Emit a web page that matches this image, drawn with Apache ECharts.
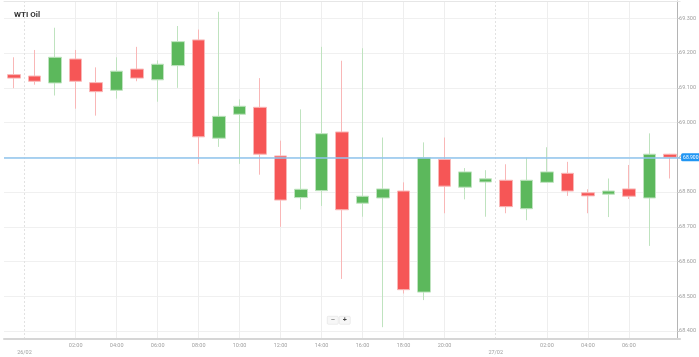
<!DOCTYPE html>
<html>
<head>
<meta charset="utf-8">
<script src="https://cdn.jsdelivr.net/npm/echarts@6/dist/echarts.min.js"></script>
<style>
html,body{margin:0;padding:0;background:#fff;}
#chart{width:699px;height:357px;}
</style>
</head>
<body>
<div id="chart"></div>
<script>
const title = 'WTI Oil';
const categories = ['22:00','00:00','01:00','02:00','03:00','04:00','05:00','06:00','07:00','08:00','09:00','10:00','11:00','12:00','13:00','14:00','15:00','16:00','17:00','18:00','19:00','20:00','21:00','22:00','00:00','01:00','02:00','03:00','04:00','05:00','06:00','07:00','08:00'];
const opens  = [69.138,69.134,69.114,69.183,69.115,69.093,69.154,69.123,69.164,69.238,68.955,69.024,69.044,68.904,68.784,68.804,68.973,68.768,68.783,68.803,68.512,68.894,68.814,68.829,68.834,68.752,68.828,68.854,68.798,68.794,68.809,68.783,68.909];
const closes = [69.128,69.119,69.188,69.119,69.089,69.148,69.128,69.168,69.233,68.959,69.018,69.047,68.909,68.777,68.808,68.968,68.749,68.788,68.809,68.519,68.899,68.817,68.858,68.838,68.758,68.834,68.858,68.803,68.789,68.803,68.788,68.909,68.900];
const lows   = [69.099,69.109,69.078,69.040,69.020,69.069,69.119,69.060,69.100,68.881,68.930,68.881,68.850,68.700,68.750,68.760,68.550,68.729,68.411,68.508,68.489,68.739,68.779,68.729,68.739,68.719,68.826,68.789,68.739,68.728,68.780,68.645,68.839];
const highs  = [69.188,69.209,69.273,69.209,69.159,69.188,69.218,69.179,69.278,69.268,69.319,69.067,69.128,68.948,69.038,69.218,69.178,69.214,68.957,68.828,68.943,68.957,68.869,68.863,68.880,68.899,68.929,68.887,68.808,68.839,68.878,68.969,68.910];
const hourTicks = [3,5,7,9,11,13,15,17,19,21,26,28,30];
const dayTicks = [0.5, 23.5];
const dayLabels = ['26/02', '27/02'];
const priceTicks = [68.4,68.5,68.6,68.7,68.8,68.9,69.0,69.1,69.2,69.3];
const lastPrice = 68.900;

const candleData = categories.map((c, i) => [opens[i], closes[i], lows[i], highs[i]]);
const dayLabelMap = {};
dayTicks.forEach((t, i) => { dayLabelMap[t] = dayLabels[i]; });

const chart = echarts.init(document.getElementById('chart'), null, {renderer: 'canvas'});
const labelFont = {color: '#a0a0a0', fontSize: 5.5, fontFamily: 'Roboto, sans-serif'};

chart.setOption({
  animation: false,
  backgroundColor: '#fff',
  title: {
    text: title, left: 9, top: 6,
    textStyle: {fontSize: 8, fontWeight: 'bold', color: '#333', fontFamily: 'Roboto, sans-serif'}
  },
  grid: {left: 4, right: 18, top: 1, bottom: 18, containLabel: false},
  xAxis: [
    {
      type: 'category', data: categories, boundaryGap: true, position: 'bottom',
      axisLine: {show: true, onZero: false, lineStyle: {color: '#d6d6d6', width: 2}},
      axisTick: {show: false}, axisLabel: {show: false}, splitLine: {show: false}
    },
    {
      type: 'value', min: -0.5, max: 32.5, position: 'bottom',
      axisLine: {show: false, onZero: false},
      axisTick: {show: false, customValues: hourTicks},
      axisLabel: Object.assign({customValues: hourTicks, margin: 4,
        formatter: v => categories[Math.round(v)]}, labelFont),
      splitLine: {show: true, lineStyle: {color: '#eeeeee', width: 1}}
    },
    {
      type: 'value', min: -0.5, max: 32.5, position: 'bottom',
      axisLine: {show: false, onZero: false},
      axisTick: {show: false, customValues: dayTicks},
      axisLabel: Object.assign({customValues: dayTicks, margin: 11,
        formatter: v => dayLabelMap[v] || ''}, labelFont),
      splitLine: {show: true, lineStyle: {color: '#e2e2e2', width: 1, type: [2, 2]}}
    },
    {
      type: 'value', min: -0.5, max: 32.5, position: 'top',
      axisLine: {show: true, onZero: false, lineStyle: {color: '#e6e6e6', width: 1}},
      axisTick: {show: false}, axisLabel: {show: false}, splitLine: {show: false}
    }
  ],
  yAxis: {
    type: 'value', position: 'right', min: 68.377, max: 69.35, offset: -3,
    axisLine: {show: true, onZero: false, lineStyle: {color: '#b4b4b4', width: 1}},
    axisTick: {show: true, length: 2, customValues: priceTicks, lineStyle: {color: '#c8c8c8'}},
    axisLabel: Object.assign({customValues: priceTicks, margin: 2, formatter: v => v.toFixed(3)}, labelFont),
    splitLine: {show: true, lineStyle: {color: '#f0f0f0', width: 1}}
  },
  series: [{
    type: 'candlestick',
    xAxisIndex: 0, yAxisIndex: 0,
    data: candleData,
    barWidth: 13,
    itemStyle: {
      color: '#5cb85c', color0: '#f65656',
      borderColor: '#bfe3bf', borderColor0: '#f9b7b7', borderWidth: 1
    },
    markLine: {
      silent: true, symbol: 'none', animation: false,
      data: [{yAxis: lastPrice}],
      lineStyle: {color: '#8fc4ee', width: 1.5, type: 'solid'},
      label: {
        position: 'end', distance: 1, formatter: p => Number(p.value).toFixed(3),
        backgroundColor: '#2196f3', color: '#fff', fontSize: 5, padding: [1.5, 2],
        borderRadius: 1.5, fontFamily: 'Roboto, sans-serif'
      }
    }
  }],
  graphic: [{
    type: 'group', left: 327, top: 316,
    children: [
      {type: 'rect', shape: {x: 0, y: 0, width: 11, height: 8, r: 1}, style: {fill: '#f7f7f7', stroke: '#dddddd', lineWidth: 0.5}},
      {type: 'rect', shape: {x: 12, y: 0, width: 11, height: 8, r: 1}, style: {fill: '#f7f7f7', stroke: '#dddddd', lineWidth: 0.5}},
      {type: 'text', x: 5.5, y: 4, style: {text: '−', fontSize: 7, fill: '#444', align: 'center', verticalAlign: 'middle'}},
      {type: 'text', x: 17.5, y: 4, style: {text: '+', fontSize: 7, fill: '#444', align: 'center', verticalAlign: 'middle', fontWeight: 'bold'}}
    ]
  }]
});
</script>
</body>
</html>
